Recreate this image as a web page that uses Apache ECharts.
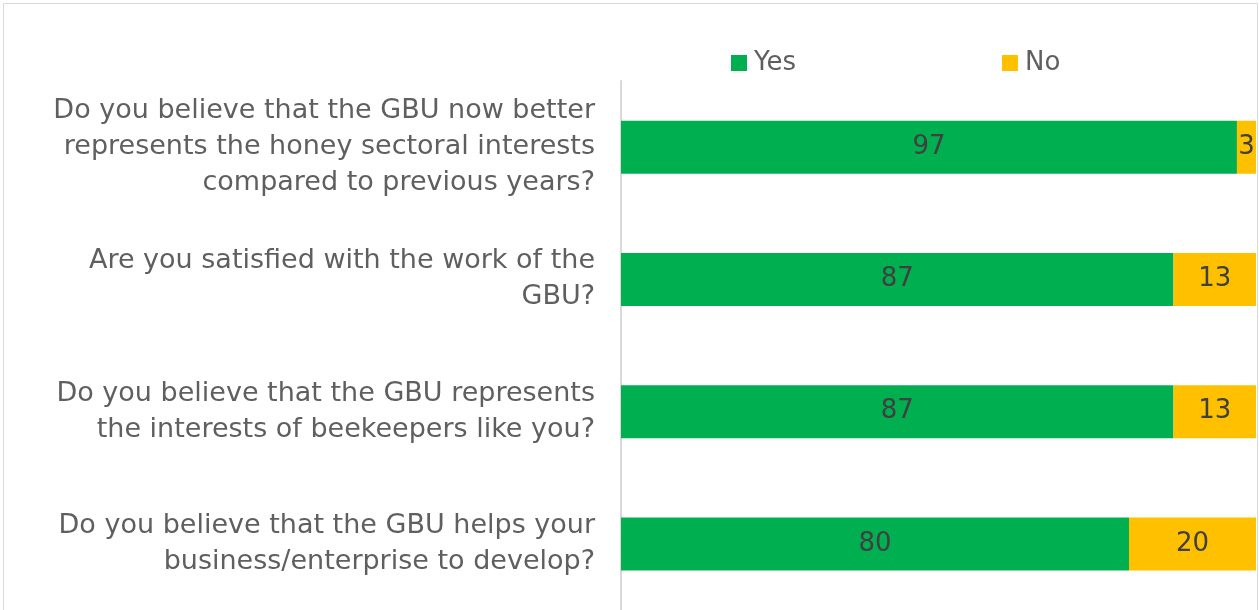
<!DOCTYPE html>
<html><head><meta charset="utf-8">
<script src="https://cdn.jsdelivr.net/npm/echarts@6/dist/echarts.min.js"></script>
<style>html,body{margin:0;padding:0;background:#fff;}#c{width:1259px;height:610px;}</style>
</head><body><div id="c"></div>
<script>
const categories = [
  "Do you believe that the GBU now better\nrepresents the honey sectoral interests\ncompared to previous years?",
  "Are you satisfied with the work of the\nGBU?",
  "Do you believe that the GBU represents\nthe interests of beekeepers like you?",
  "Do you believe that the GBU helps your\nbusiness/enterprise to develop?"
];
const yesValues = [97, 87, 87, 80];
const noValues = [3, 13, 13, 20];
const FONT = "DejaVu Sans";
const chart = echarts.init(document.getElementById('c'));
chart.setOption({
  animation: false,
  graphic: [{type:'rect', left:1, top:1, shape:{width:1254, height:700}, style:{fill:'none', stroke:'#d9d9d9', lineWidth:1}, silent:true}],
  legend: {
    data: ['Yes','No'], top: 45, left: 726, itemGap: 206, itemWidth: 16, itemHeight: 16, icon: 'rect',
    textStyle: {fontFamily: FONT, fontSize: 26, color: '#5f5f5f', padding:[0,0,0,2]}
  },
  grid: {left: 621, width: 635, top: 81, height: 532, containLabel: false},
  xAxis: {type:'value', min:0, max:100, show:false},
  yAxis: {
    type:'category', inverse:true, data: categories,
    axisLine:{show:true, lineStyle:{color:'#d9d9d9', width:2}},
    axisTick:{show:false},
    axisLabel:{fontFamily: FONT, fontSize: 27, color:'#5f5f5f', margin: 26, lineHeight: 36, align:'right'}
  },
  series: [
    {name:'Yes', type:'bar', stack:'t', data: yesValues, barWidth: 53, itemStyle:{color:'#00B050'},
     label:{show:true, position:'inside', fontFamily: FONT, fontSize: 26, color:'#404040'}},
    {name:'No', type:'bar', stack:'t', data: noValues, barWidth: 53, itemStyle:{color:'#FFC000'},
     label:{show:true, position:'inside', fontFamily: FONT, fontSize: 26, color:'#404040'}}
  ]
});
</script></body></html>
